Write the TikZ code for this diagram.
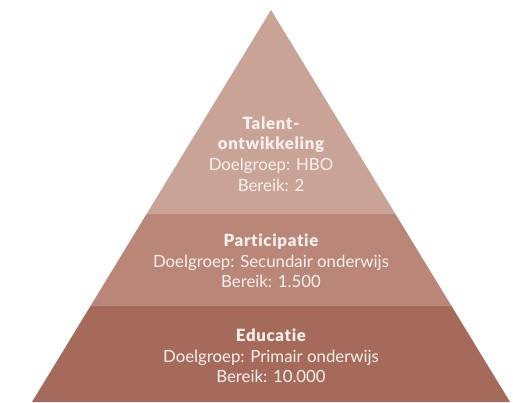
\documentclass[tikz,border=0pt]{standalone}
\usepackage{fontspec}
\setmainfont{Lato}[Ligatures=NoCommon]
\newfontfamily\kopfont{Lato Black}[Ligatures=NoCommon, LetterSpace=4]
\newcommand{\kop}[1]{{\kopfont #1}}
\definecolor{laagboven}{HTML}{C9A396}
\definecolor{laagmidden}{HTML}{B98677}
\definecolor{laagonder}{HTML}{A66A5A}
\definecolor{tekstkleur}{HTML}{F9F1EE}

\begin{document}
\begin{tikzpicture}[x=1pt, y=-1pt,
    laag/.style={draw=white, draw opacity=0.25, line width=0.8pt},
    tekst/.style={align=center, text=tekstkleur,
                  font=\fontsize{16.8}{20.6}\selectfont}
]
\useasboundingbox (0,0) rectangle (513,403);

% Hoekpunten van de piramide
\coordinate (top)  at (271,10);
\coordinate (l1)   at (147.2,213);
\coordinate (r1)   at (394.8,213);
\coordinate (l2)   at (91.1,305);
\coordinate (r2)   at (450.9,305);
\coordinate (l3)   at (32,402);
\coordinate (r3)   at (510,402);

% Lagen
\fill[laagonder]  (l2) -- (r2) -- (r3) -- (l3) -- cycle;
\fill[laagmidden] (l1) -- (r1) -- (r2) -- (l2) -- cycle;
\fill[laagboven]  (top) -- (r1) -- (l1) -- cycle;
\draw[laag] (l1) -- (r1);
\draw[laag] (l2) -- (r2);

% Teksten
\node[tekst] (talent)   at (271,154) {\kop{Talent-}\\\kop{ontwikkeling}\\Doelgroep: HBO\\Bereik: 2};
\node[tekst] (particip) at (271,261) {\kop{Participatie}\\Doelgroep: Secundair onderwijs\\Bereik: 1.500};
\node[tekst] (educatie) at (271,356) {\kop{Educatie}\\Doelgroep: Primair onderwijs\\Bereik: 10.000};

\end{tikzpicture}
\end{document}
